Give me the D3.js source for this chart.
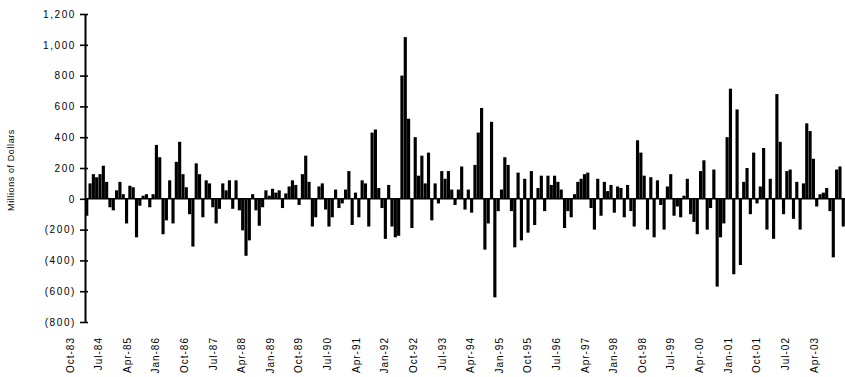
<!DOCTYPE html>
<html>
<head>
<meta charset="utf-8">
<script src="https://cdn.jsdelivr.net/npm/d3@7"></script>
<style>
  body { margin: 0; background: #fff; }
  text { font-family: "Liberation Sans", Arial, sans-serif; fill: #000; }
</style>
</head>
<body>
<figure id="bar" style="margin:0"></figure>
<script>
// values, left to right, in four stretches
const part1 = [-110, 100, 160, 140, 160, 215, 110, -55, -75, 55, 110, 30, -160, 85, 75, -250, -45, 20, 30, -55,
  30, 350, 270, -230, -140, 120, -160, 240, 370, 160, 75, -100, -310, 230, 160, -120, 120, 100, -55, -160,
  -65, 100, 55, 120, -65, 120, -75, -205, -370, -270, 30, -75, -175, -55, 55, 20, 65];
const part2 = [40, 55, -60, 35, 80, 120, 90, -40, 160, 280, 110, -180, -120, 80, 100, -70, -180, -120, 60, -60,
  -30, 60, 180, -170, 40, -120, 120, 100, -180, 430, 450, 70, -60, -260, 90, -180, -250, -240, 800, 1050,
  520, -190, 400, 150, 280, 100, 300, -140, 100, -30, 180, 130, 180, 60, -40, 60, 210];
const part3 = [-70, 60, -90, 220, 430, 590, -330, -160, 500, -640, -80, 60, 270, 220, -80, -315, 170, -270, 130, -220,
  180, -170, 70, 150, -80, 150, 90, 150, 110, 60, -190, -80, -120, 30, 110, 130, 160, 170, -60, -200,
  130, -110, 110, 50, 90, -90, 80, 70, -120, 90, -80, -180, 380, 300, 150, -200, 140];
const part4 = [-250, 120, -40, -200, 80, 160, -110, -50, -120, 20, 130, -100, -150, -230, 180, 250, -200, -60, 190, -570,
  -250, -160, 400, 715, -490, 580, -430, 110, 200, -100, 300, -30, 80, 330, -200, 130, -260, 680, 370, -100,
  180, 190, -130, 110, -200, 100, 490, 440, 260, -50, 30, 40, 70, -80, -380, 190, 210, -180];

const dateLabels = ["Oct-83", "Jul-84", "Apr-85", "Jan-86", "Oct-86", "Jul-87", "Apr-88", "Jan-89", "Oct-89",
  "Jul-90", "Apr-91", "Jan-92", "Oct-92", "Jul-93", "Apr-94", "Jan-95", "Oct-95", "Jul-96", "Apr-97",
  "Jan-98", "Oct-98", "Jul-99", "Apr-00", "Jan-01", "Oct-01", "Jul-02", "Apr-03"];
const yTicks = [-800, -600, -400, -200, 0, 200, 400, 600, 800, 1000, 1200];
const yTitle = "Millions of Dollars";

const values = part1.concat(part2, part3, part4);
const data = values.map((v, i) => ({ id: i, value: v }));

const width = 845, height = 377;
const plotLeft = 85, plotRight = 845, plotTop = 14, plotBottom = 322;

const svg = d3.select("figure#bar")
  .append("svg")
  .attr("width", width)
  .attr("height", height);

const x = d3.scaleBand()
  .domain(data.map(d => d.id))
  .range([plotLeft, plotRight])
  .padding(0.05);

const y = d3.scaleLinear()
  .domain([-800, 1200])
  .range([plotBottom, plotTop]);

// bars from zero
svg.append("g")
  .selectAll("rect")
  .data(data)
  .enter()
  .append("rect")
  .attr("x", d => x(d.id))
  .attr("y", d => y(Math.max(0, d.value)))
  .attr("width", x.bandwidth())
  .attr("height", d => Math.abs(y(d.value) - y(0)))
  .attr("fill", "#000");

// zero line
svg.append("line")
  .attr("x1", plotLeft).attr("x2", plotRight)
  .attr("y1", y(0)).attr("y2", y(0))
  .attr("stroke", "#000")
  .attr("stroke-width", 1.6);

// y axis, ticks cross the line
const fmt = d => d < 0 ? "(" + d3.format(",")(-d) + ")" : d3.format(",")(d);
const yAxis = svg.append("g")
  .attr("transform", "translate(" + plotLeft + ",0)")
  .call(d3.axisLeft(y).tickValues(yTicks).tickFormat(fmt).tickSize(5).tickSizeOuter(0).tickPadding(4));
yAxis.select(".domain").attr("stroke-width", 2);
yAxis.selectAll(".tick line").attr("x2", 3).attr("x1", -5).attr("stroke-width", 1.6);
yAxis.selectAll("text")
  .style("font-size", "10px")
  .style("letter-spacing", "1.6px");

svg.append("text")
  .attr("transform", "translate(14," + 170 + ")rotate(-90)")
  .attr("text-anchor", "middle")
  .style("font-size", "9px")
  .style("letter-spacing", "0.6px")
  .text(yTitle);

// rotated date labels underneath
const xl = d3.scalePoint()
  .domain(dateLabels)
  .range([70, 814]);

svg.append("g")
  .selectAll("text")
  .data(dateLabels)
  .enter()
  .append("text")
  .attr("transform", d => "translate(" + xl(d) + ",337)rotate(-90)")
  .attr("text-anchor", "end")
  .attr("dy", "0.35em")
  .style("font-size", "10px")
  .style("letter-spacing", "1px")
  .text(d => d);
</script>
</body>
</html>
